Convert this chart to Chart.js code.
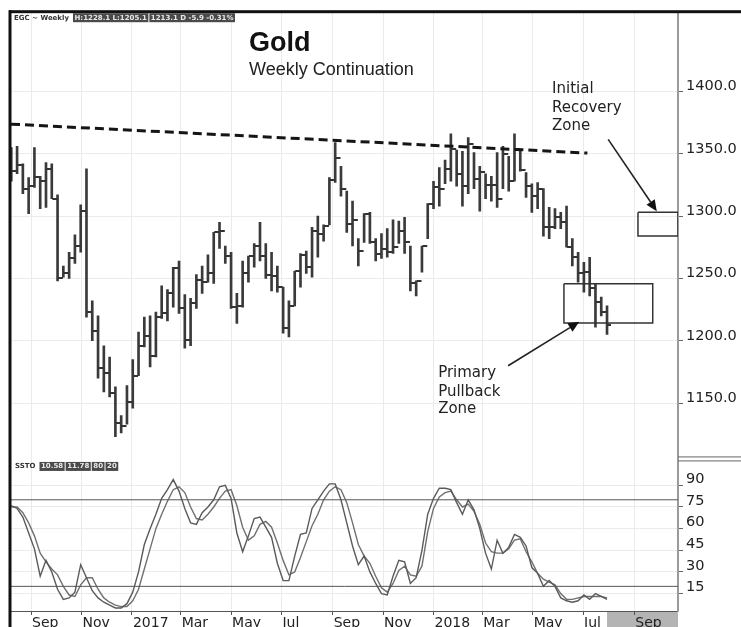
<!DOCTYPE html>
<html>
<head>
<meta charset="utf-8">
<script src="https://cdn.jsdelivr.net/npm/chart.js@4"></script>
<style>
html,body{margin:0;padding:0;background:#fff;}
canvas{display:block;}
</style>
</head>
<body>
<canvas id="c" width="741" height="627"></canvas>
<script>
// ---------- data ----------
const firstWeek = '2016-08-08';
const monthTickDates = ['2016-09-01','2016-11-01','2017-01-01','2017-03-01','2017-05-01','2017-07-01','2017-09-01','2017-11-01','2018-01-01','2018-03-01','2018-05-01','2018-07-01','2018-09-01'];
const monthTickLabels = ['Sep','Nov','2017','Mar','May','Jul','Sep','Nov','2018','Mar','May','Jul','Sep'];

const highs = [1355,1356,1342,1331,1355,1332,1343,1342,1317,1260,1271,1285,1309,1338,1232,1220,1196,1187,1163,1140,
1164,1185,1207,1219,1220,1223,1244,1241,1259,1264,1237,1234,1253,1260,1269,1287,1295,1276,1271,1238,
1264,1268,1278,1295,1278,1271,1260,1243,1232,1256,1270,1272,1291,1300,1293,1331,1359,1340,1320,1312,
1282,1302,1303,1282,1286,1290,1297,1296,1299,1276,1248,1276,1310,1328,1339,1345,1366,1353,1352,1363,
1351,1340,1334,1332,1351,1356,1348,1366,1352,1335,1326,1327,1322,1307,1306,1303,1308,1282,1271,1263,
1267,1246,1235,1228];
const lows = [1328,1334,1318,1302,1323,1306,1307,1314,1248,1251,1250,1262,1271,1219,1200,1170,1159,1155,1123,1126,
1133,1146,1172,1195,1179,1187,1218,1216,1227,1222,1194,1196,1226,1238,1247,1246,1274,1262,1226,1214,
1227,1247,1259,1264,1250,1240,1239,1206,1203,1228,1243,1254,1251,1267,1280,1293,1327,1316,1287,1276,
1260,1279,1278,1264,1266,1267,1270,1278,1270,1240,1236,1255,1282,1306,1308,1326,1328,1324,1308,1318,
1322,1304,1314,1312,1307,1322,1320,1328,1336,1315,1303,1306,1284,1282,1290,1290,1275,1260,1247,1239,
1236,1211,1220,1205];
const opens = [1340,1336,1341,1322,1324,1331,1328,1338,1314,1250,1254,1266,1276,1304,1223,1208,1178,1174,1158,1134,
1132,1151,1172,1196,1204,1188,1219,1222,1238,1258,1226,1201,1230,1249,1247,1254,1287,1288,1268,1227,
1228,1254,1268,1276,1268,1253,1252,1243,1210,1228,1256,1269,1259,1288,1286,1292,1329,1347,1322,1294,
1297,1272,1302,1279,1270,1274,1271,1275,1288,1279,1246,1248,1276,1310,1323,1322,1338,1354,1334,1324,
1358,1330,1335,1325,1325,1314,1350,1328,1354,1337,1324,1316,1322,1291,1291,1299,1295,1275,1267,1254,
1255,1242,1231,1223];
const closes = [1336,1341,1322,1324,1331,1328,1338,1314,1250,1254,1266,1276,1304,1223,1208,1178,1174,1158,1134,1132,
1151,1172,1196,1204,1188,1219,1222,1238,1258,1226,1201,1230,1249,1247,1254,1287,1288,1268,1227,1228,
1254,1268,1276,1268,1253,1252,1243,1210,1228,1256,1269,1259,1288,1286,1292,1329,1347,1322,1294,1297,
1272,1302,1279,1270,1274,1271,1275,1288,1279,1246,1248,1276,1310,1323,1322,1338,1354,1334,1324,1358,
1330,1335,1325,1325,1314,1350,1328,1354,1337,1324,1316,1322,1291,1291,1299,1295,1275,1267,1254,1255,
1242,1231,1223,1213];

// Slow stochastic: %K and %D
const sstoK = [76,74,68,57,46,27,38,30,18,11,12,16,35,26,17,12,9,7,5,5,
8,16,30,49,60,70,81,87,94,86,74,64,63,71,75,80,89,90,81,57,
44,55,67,68,61,54,36,24,24,41,56,57,74,80,86,91,91,80,64,48,
35,41,30,22,15,14,27,38,37,22,26,45,70,81,88,88,87,78,70,80,
73,60,43,32,52,43,47,56,54,48,33,29,20,24,20,12,10,9,10,14,
11,15,13,11];
const sstoD = [75,75,71,64,55,43,37,32,28,20,14,13,21,26,26,18,12,9,7,6,
6,10,18,32,46,60,70,79,87,89,85,75,67,66,70,75,81,86,87,76,
61,52,55,63,65,61,50,38,28,30,40,51,62,70,80,86,89,87,78,64,
49,41,36,27,19,16,22,31,34,28,27,34,58,74,82,85,86,80,75,77,
72,63,50,44,43,43,46,52,53,44,37,29,25,23,21,15,11,11,12,13,
13,13,13,12];

const priceTicks = [1150,1200,1250,1300,1350,1400];
const sstoTicks = [15,30,45,60,75,90];
const sstoLevels = [80,20];

// annotations (bar index, price)
const trendLine = [[-0.05,1373.8],[99.6,1350.6]];
const recoveryZone = [108.35,115.27,1284,1303.2];   // x0,x1,low,high
const pullbackZone = [95.55,110.9,1214.2,1245.8];
const recoveryArrow = [[103.2,1361.6],[111.6,1304]];
const pullbackArrow = [[85.9,1180],[98.2,1215.2]];
const recoveryText = ['Initial','Recovery','Zone'];
const recoveryTextPos = [93.5,[1401.6,1386.4,1372]];
const pullbackText = ['Primary','Pullback','Zone'];
const pullbackTextPos = [73.8,[1174.4,1159.2,1144.8]];
const titleText = ['Gold','Weekly Continuation'];
const titlePos = [41.1,[1438.4,1417.6]];
const headerLegend = ['EGC ~ Weekly','H:1228.1 L:1205.1','1213.1 D -5.9 -0.31%'];
const sstoLegend = ['SSTO','10.58','11.78','80','20'];

// ---------- build ----------
const X_MIN = -0.05, X_MAX = 115.27;
const t0 = Date.parse(firstWeek);
const WEEK = 7*86400000;
const monthTickPos = monthTickDates.map(d => (Date.parse(d) - t0) / WEEK);
const idx = closes.map((_, i) => i);

function tickImg(side){
  const c = document.createElement('canvas');
  c.width = 7; c.height = 2;
  const g = c.getContext('2d');
  g.fillStyle = '#333';
  if (side === 'open') g.fillRect(0,0,3,2); else g.fillRect(4,0,3,2);
  return c;
}
function boxPath(z){
  return [{x:z[0],y:z[3]},{x:z[1],y:z[3]},{x:z[1],y:z[2]},{x:z[0],y:z[2]},{x:z[0],y:z[3]}];
}

const FONT = '"DejaVu Sans", Verdana, sans-serif';

const decor = {
  id: 'decor',
  beforeDraw(chart){
    const {ctx, chartArea:a, scales:{x}} = chart;
    ctx.save();
    const gx = x.getPixelForValue(closes.length - 1);
    ctx.fillStyle = '#b4b4b4';
    ctx.fillRect(gx, a.bottom + 1, a.right - gx, chart.height - a.bottom);
    ctx.restore();
  },
  afterDraw(chart){
    const {ctx, chartArea:a, scales} = chart;
    const x = scales.x, yP = scales.yP, yS = scales.yS;
    ctx.save();
    // frame
    ctx.fillStyle = '#111';
    ctx.fillRect(a.left - 2, a.top - 1.5, chart.width - a.left + 2, 3);
    ctx.fillRect(a.left - 2.5, a.top - 1.5, 3, chart.height - a.top + 2);
    // panel separator on the axis side
    ctx.strokeStyle = '#666'; ctx.lineWidth = 1;
    ctx.beginPath();
    ctx.moveTo(a.right, yP.bottom - 1.5); ctx.lineTo(chart.width, yP.bottom - 1.5);
    ctx.moveTo(a.right, yP.bottom + 2.5); ctx.lineTo(chart.width, yP.bottom + 2.5);
    ctx.stroke();

    // title
    ctx.fillStyle = '#111';
    ctx.textBaseline = 'middle'; ctx.textAlign = 'left';
    ctx.font = 'bold 27px "Liberation Sans", Arial, sans-serif';
    ctx.fillText(titleText[0], x.getPixelForValue(titlePos[0]), yP.getPixelForValue(titlePos[1][0]));
    ctx.font = '18px "Liberation Sans", Arial, sans-serif';
    ctx.fillStyle = '#222';
    ctx.fillText(titleText[1], x.getPixelForValue(titlePos[0]), yP.getPixelForValue(titlePos[1][1]));

    // zone labels
    ctx.font = '15px ' + FONT;
    ctx.fillStyle = '#222';
    recoveryText.forEach((t,i)=>ctx.fillText(t, x.getPixelForValue(recoveryTextPos[0]), yP.getPixelForValue(recoveryTextPos[1][i])));
    pullbackText.forEach((t,i)=>ctx.fillText(t, x.getPixelForValue(pullbackTextPos[0]), yP.getPixelForValue(pullbackTextPos[1][i])));

    // arrows
    function arrow(p){
      const x1 = x.getPixelForValue(p[0][0]), y1 = yP.getPixelForValue(p[0][1]);
      const x2 = x.getPixelForValue(p[1][0]), y2 = yP.getPixelForValue(p[1][1]);
      const ang = Math.atan2(y2-y1, x2-x1);
      const L = 11, W = 5;
      const bx = x2 - L*Math.cos(ang), by = y2 - L*Math.sin(ang);
      ctx.strokeStyle = '#222'; ctx.lineWidth = 1.6;
      ctx.beginPath(); ctx.moveTo(x1,y1); ctx.lineTo(bx,by); ctx.stroke();
      ctx.fillStyle = '#111';
      ctx.beginPath();
      ctx.moveTo(x2,y2);
      ctx.lineTo(bx + W*Math.sin(ang), by - W*Math.cos(ang));
      ctx.lineTo(bx - W*Math.sin(ang), by + W*Math.cos(ang));
      ctx.closePath(); ctx.fill();
    }
    arrow(recoveryArrow);
    arrow(pullbackArrow);

    // small legends
    function legend(items, lx, ly){
      ctx.font = 'bold 7px ' + FONT;
      ctx.textBaseline = 'middle';
      let cx = lx;
      items.forEach((t,i)=>{
        const w = ctx.measureText(t).width;
        if (i === 0) {
          ctx.fillStyle = '#333';
          ctx.fillText(t, cx, ly);
          cx += w + 4;
        } else {
          ctx.fillStyle = '#4a4a4a';
          ctx.fillRect(cx, ly - 4.5, w + 3, 9);
          ctx.fillStyle = '#e8e8e8';
          ctx.fillText(t, cx + 1.5, ly);
          cx += w + 4;
        }
      });
    }
    legend(headerLegend, a.left + 3, a.top + 6);
    legend(sstoLegend, a.left + 4, yS.top + 8);
    ctx.restore();
  }
};

const gridColor = '#ebebeb';
const tickFont = {family: 'DejaVu Sans', size: 14.5};

new Chart(document.getElementById('c'), {
  type: 'line',
  data: {
    datasets: [
      {
        type: 'bar', yAxisID: 'yP', label: 'range',
        data: idx.map(i => ({x: i, y: [lows[i], highs[i]]})),
        backgroundColor: '#3a3a3a', borderWidth: 0, barThickness: 2, order: 3
      },
      {
        type: 'line', yAxisID: 'yP', label: 'open', showLine: false,
        data: idx.map(i => ({x: i, y: opens[i]})),
        pointStyle: tickImg('open'), pointRadius: 3, order: 2
      },
      {
        type: 'line', yAxisID: 'yP', label: 'close', showLine: false,
        data: idx.map(i => ({x: i, y: closes[i]})),
        pointStyle: tickImg('close'), pointRadius: 3, order: 2
      },
      {
        type: 'line', yAxisID: 'yP', label: 'trend',
        data: trendLine.map(p => ({x: p[0], y: p[1]})),
        borderColor: '#151515', borderWidth: 3, borderDash: [9,5], pointRadius: 0, order: 1
      },
      {
        type: 'line', yAxisID: 'yP', label: 'recovery',
        data: boxPath(recoveryZone), borderColor: '#333', borderWidth: 1.5, pointRadius: 0, fill: false, order: 1
      },
      {
        type: 'line', yAxisID: 'yP', label: 'pullback',
        data: boxPath(pullbackZone), borderColor: '#333', borderWidth: 1.5, pointRadius: 0, fill: false, order: 1
      },
      ...sstoLevels.map(v => ({
        type: 'line', yAxisID: 'yS', label: 'lvl' + v,
        data: [{x: X_MIN, y: v}, {x: X_MAX, y: v}],
        borderColor: '#555', borderWidth: 1, pointRadius: 0, order: 1
      })),
      {
        type: 'line', yAxisID: 'yS', label: '%K',
        data: idx.map(i => ({x: i, y: sstoK[i]})),
        borderColor: '#5a5a5a', borderWidth: 1.4, pointRadius: 0, tension: 0, order: 1
      },
      {
        type: 'line', yAxisID: 'yS', label: '%D',
        data: idx.map(i => ({x: i, y: sstoD[i]})),
        borderColor: '#707070', borderWidth: 1.4, pointRadius: 0, tension: 0, order: 1
      }
    ]
  },
  options: {
    responsive: false,
    animation: false,
    events: [],
    layout: {padding: {left: 11, top: 10, right: 0, bottom: 0}},
    plugins: {legend: {display: false}, tooltip: {enabled: false}, title: {display: false}},
    scales: {
      x: {
        type: 'linear', min: X_MIN, max: X_MAX, offset: false,
        afterBuildTicks: s => { s.ticks = monthTickPos.map(v => ({value: v})); },
        afterFit: s => { s.height = 16; },
        ticks: {
          autoSkip: false, maxRotation: 0, minRotation: 0, align: 'start', labelOffset: 1, padding: 0,
          callback: (v, i) => monthTickLabels[i],
          font: {family: 'DejaVu Sans', size: 14}, color: '#222'
        },
        grid: {color: gridColor, offset: false, tickLength: 4, tickColor: '#555'},
        border: {color: '#555', width: 1}
      },
      yP: {
        type: 'linear', position: 'right', stack: 'panels', stackWeight: 448,
        min: 1105.6, max: 1464,
        afterBuildTicks: s => { s.ticks = priceTicks.map(v => ({value: v})); },
        afterFit: s => { s.width = 63; },
        ticks: {autoSkip: false, callback: v => Number(v).toFixed(1), padding: 3, labelOffset: -5, font: tickFont, color: '#222'},
        grid: {color: gridColor, tickLength: 5, tickColor: '#666'},
        border: {color: '#9a9a9a', width: 2}
      },
      yS: {
        type: 'linear', position: 'right', stack: 'panels', stackWeight: 153,
        min: 2.92, max: 108.66,
        afterBuildTicks: s => { s.ticks = sstoTicks.map(v => ({value: v})); },
        afterFit: s => { s.width = 63; },
        ticks: {autoSkip: false, callback: v => String(v), padding: 3, labelOffset: -6, font: tickFont, color: '#222'},
        grid: {color: gridColor, tickLength: 5, tickColor: '#666'},
        border: {color: '#9a9a9a', width: 2}
      }
    }
  },
  plugins: [decor]
});
</script>
</body>
</html>
